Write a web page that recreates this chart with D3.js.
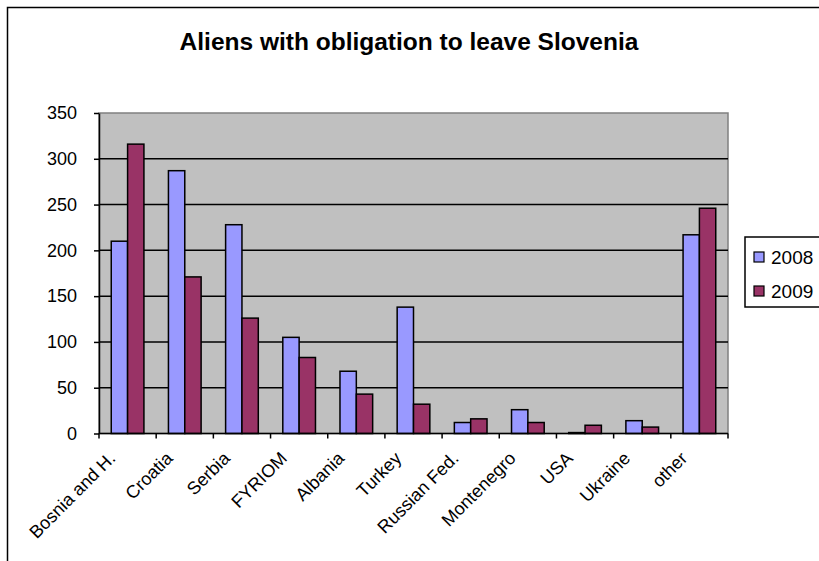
<!DOCTYPE html>
<html><head><meta charset="utf-8">
<script src="https://cdn.jsdelivr.net/npm/d3@7"></script>
<style>body{margin:0;background:#fff;} svg{display:block;}</style>
</head><body>
<svg id="chart" width="819" height="561"></svg>
<script>
const categories = ["Bosnia and H.","Croatia","Serbia","FYRIOM","Albania","Turkey","Russian Fed.","Montenegro","USA","Ukraine","other"];
const seriesNames = ["2008","2009"];
const values2008 = [210,287,228,105,68,138,12,26,1,14,217];
const values2009 = [316,171,126,83,43,32,16,12,9,7,246];
const yTicks = [0,50,100,150,200,250,300,350];
const colors = ["#9999FF","#993366"];

const svg = d3.select("#chart");
const font = "Arial, 'Liberation Sans', sans-serif";
const plot = {l:99, t:113, r:728, b:433.5};

svg.append("rect").attr("x",7.5).attr("y",7.5).attr("width",900).attr("height",700)
  .attr("fill","#fff").attr("stroke","#000").attr("stroke-width",1.5);

svg.append("text").attr("x",409).attr("y",50).attr("text-anchor","middle")
  .attr("font-family",font).attr("font-weight","bold").attr("font-size",24.5)
  .text("Aliens with obligation to leave Slovenia");

const x0 = d3.scaleBand().domain(categories).range([plot.l,plot.r]).padding(0);
const barW = x0.bandwidth()/3.5;
const x1 = d3.scaleBand().domain(seriesNames).range([barW*0.75, barW*2.75]).padding(0);
const y = d3.scaleLinear().domain([0,350]).range([plot.b,plot.t]);

svg.append("rect").attr("x",plot.l).attr("y",plot.t).attr("width",plot.r-plot.l).attr("height",plot.b-plot.t)
  .attr("fill","#C0C0C0").attr("stroke","#808080").attr("stroke-width",1.5);

svg.append("g").selectAll("line").data(yTicks.filter(d=>d>0&&d<350)).join("line")
  .attr("x1",plot.l).attr("x2",plot.r).attr("y1",d=>y(d)).attr("y2",d=>y(d))
  .attr("stroke","#000").attr("stroke-width",1.5);

const data = categories.map((c,i)=>({cat:c, vals:[values2008[i],values2009[i]]}));
const groups = svg.append("g").selectAll("g").data(data).join("g")
  .attr("transform",d=>`translate(${x0(d.cat)},0)`);
groups.selectAll("rect").data(d=>d.vals.map((v,j)=>({s:seriesNames[j],v,j}))).join("rect")
  .attr("x",d=>x1(d.s)).attr("width",x1.bandwidth())
  .attr("y",d=>y(d.v)).attr("height",d=>y(0)-y(d.v))
  .attr("fill",d=>colors[d.j]).attr("stroke","#000").attr("stroke-width",1.5);

// y axis
const yAxis = d3.axisLeft(y).tickValues(yTicks).tickSize(5).tickSizeOuter(0);
const gy = svg.append("g").attr("transform",`translate(${plot.l},0)`).call(yAxis);
gy.select(".domain").attr("stroke","#000").attr("stroke-width",1.5);
gy.selectAll(".tick line").attr("stroke","#000").attr("stroke-width",1.5);
gy.selectAll(".tick text").attr("font-family",font).attr("font-size",18).attr("fill","#000").attr("x",-22);

// x axis with ticks between categories
const gx = svg.append("g");
gx.append("line").attr("x1",plot.l).attr("x2",plot.r).attr("y1",plot.b).attr("y2",plot.b)
  .attr("stroke","#000").attr("stroke-width",1.5);
const bounds = categories.map(c=>x0(c)).concat([plot.r]);
gx.selectAll("line.t").data(bounds).join("line").attr("class","t")
  .attr("x1",d=>d).attr("x2",d=>d).attr("y1",plot.b).attr("y2",plot.b+5)
  .attr("stroke","#000").attr("stroke-width",1.5);
gx.selectAll("text").data(categories).join("text")
  .attr("transform",d=>`translate(${x0(d)+x0.bandwidth()/2-11},${plot.b+26}) rotate(-45)`)
  .attr("text-anchor","end").attr("font-family",font).attr("font-size",18).attr("fill","#000")
  .text(d=>d);

// legend
const lg = svg.append("g");
lg.append("rect").attr("x",745).attr("y",237).attr("width",100).attr("height",70)
  .attr("fill","#fff").attr("stroke","#000").attr("stroke-width",1.5);
seriesNames.forEach((s,i)=>{
  const yy = 259 + i*34;
  lg.append("rect").attr("x",754).attr("y",yy-7).attr("width",10).attr("height",10)
    .attr("fill",colors[i]).attr("stroke","#000").attr("stroke-width",1.2);
  lg.append("text").attr("x",771).attr("y",yy+5).attr("font-family",font).attr("font-size",19).text(s);
});
</script>
</body></html>
